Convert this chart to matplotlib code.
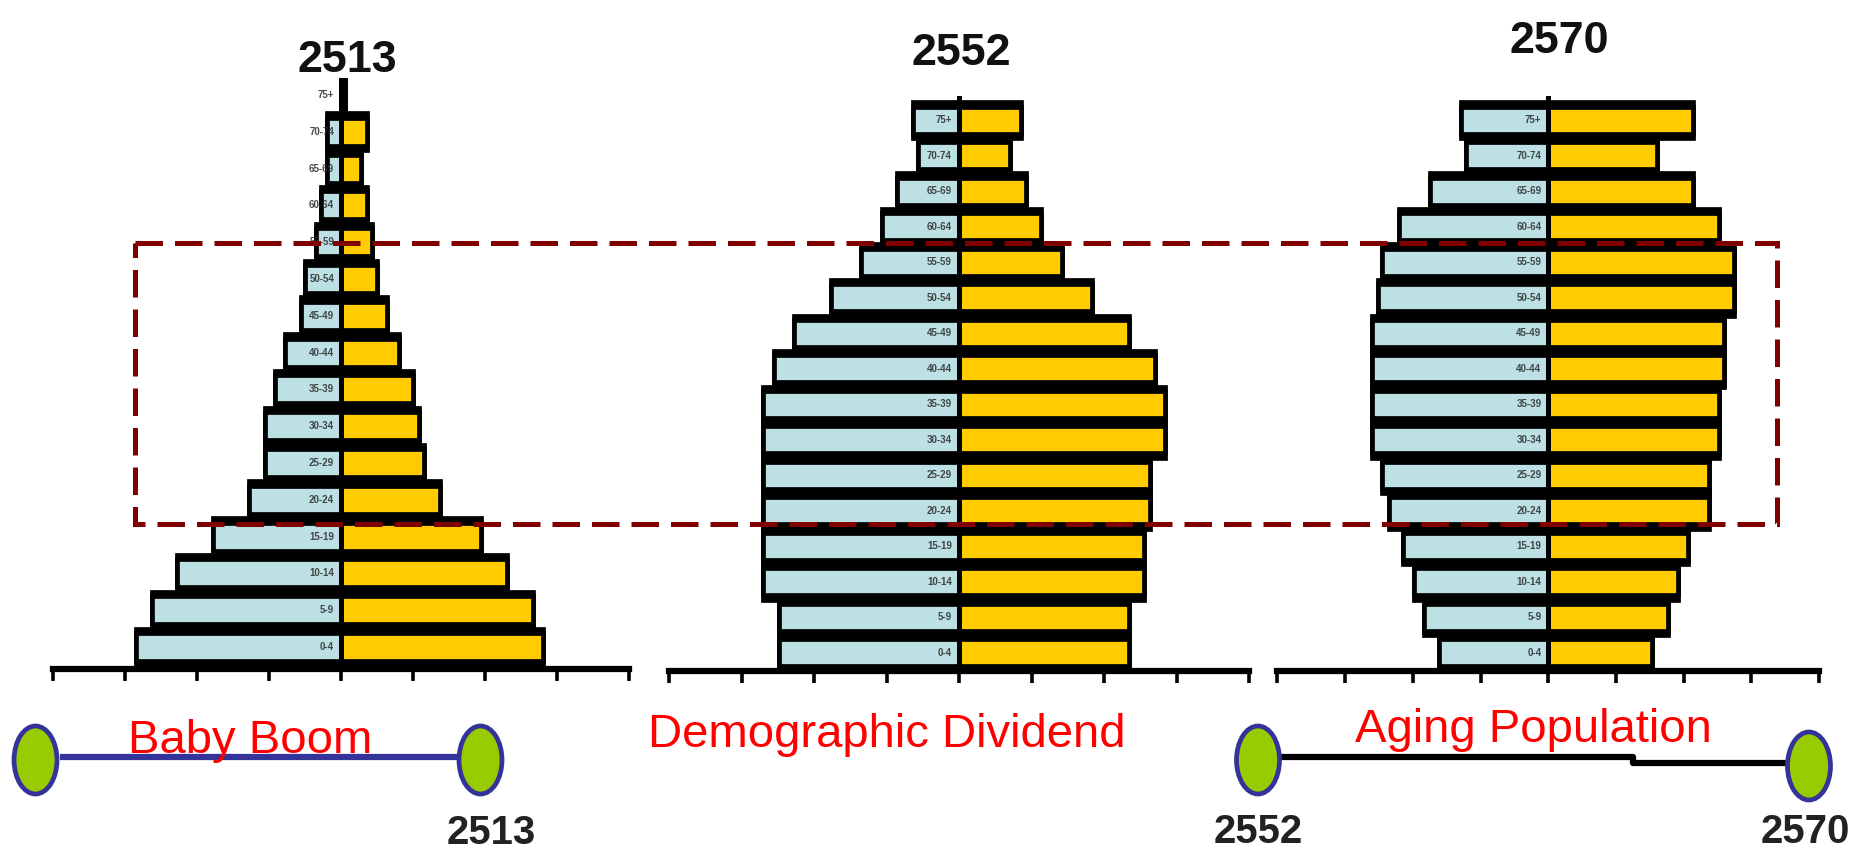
import matplotlib
matplotlib.use("Agg")
import matplotlib.pyplot as plt
from matplotlib import font_manager
from matplotlib.patches import Ellipse, Rectangle
import numpy as np

# ---------------- data ----------------
age_groups = ["0-4", "5-9", "10-14", "15-19", "20-24", "25-29", "30-34", "35-39",
              "40-44", "45-49", "50-54", "55-59", "60-64", "65-69", "70-74", "75+"]
years = ["2513", "2552", "2570"]
phases = ["Baby Boom", "Demographic Dividend", "Aging Population"]

# values per age group (bottom = 0-4 ... top = 75+), in axis tick units
male_2513 = [2.85, 2.63, 2.28, 1.78, 1.28, 1.06, 1.06, 0.92, 0.79, 0.56, 0.50, 0.35, 0.28, 0.20, 0.20, 0.00]
female_2513 = [2.80, 2.66, 2.30, 1.94, 1.37, 1.15, 1.08, 1.00, 0.80, 0.64, 0.50, 0.43, 0.36, 0.27, 0.36, 0.05]
male_2552 = [2.48, 2.48, 2.70, 2.70, 2.70, 2.70, 2.70, 2.70, 2.55, 2.27, 1.77, 1.35, 1.06, 0.85, 0.57, 0.63]
female_2552 = [2.34, 2.34, 2.55, 2.55, 2.63, 2.63, 2.84, 2.84, 2.70, 2.34, 1.84, 1.42, 1.13, 0.93, 0.70, 0.86]
male_2570 = [1.61, 1.83, 1.99, 2.14, 2.36, 2.45, 2.60, 2.60, 2.60, 2.60, 2.52, 2.45, 2.21, 1.75, 1.21, 1.29]
female_2570 = [1.53, 1.77, 1.91, 2.07, 2.38, 2.38, 2.53, 2.53, 2.60, 2.60, 2.75, 2.75, 2.53, 2.14, 1.60, 2.14]
xticks = [-4, -3, -2, -1, 0, 1, 2, 3, 4]

# ---------------- style ----------------
W, H, DPI = 1856, 852, 100
BLUE = "#BCE0E3"
YELLOW = "#FFCC00"
DARKRED = "#800000"
GREEN = "#99CC00"
NAVY = "#333399"

names = {f.name for f in font_manager.fontManager.ttflist}
if "Liberation Sans Narrow" in names:
    NARROW = ["Liberation Sans Narrow", "DejaVu Sans"]
    k = 1.0
else:
    NARROW = ["Liberation Sans", "DejaVu Sans"]
    k = 0.85

fig = plt.figure(figsize=(W / DPI, H / DPI), dpi=DPI)
fig.patch.set_facecolor("white")

# axes rectangles in pixels: (left, right, top, bottom)
panel_px = [
    (53.4, 629.4, 78.0, 668.5),
    (669.0, 1249.0, 96.0, 671.0),
    (1277.5, 1819.0, 96.0, 671.0),
]
ylims = [(0.416, 16.46), (0.493, 16.68), (0.493, 16.68)]
datasets = [(male_2513, female_2513), (male_2552, female_2552), (male_2570, female_2570)]

LW = 3.4
y = np.arange(1, len(age_groups) + 1)
for (l, r, t, b), yl, (male, female) in zip(panel_px, ylims, datasets):
    ax = fig.add_axes([l / W, 1 - b / H, (r - l) / W, (b - t) / H])
    ax.set_xlim(-4, 4)
    ax.set_ylim(*yl)
    neg = [-m for m in male]
    ax.barh(y, neg, height=1.0, color="black", edgecolor="black", linewidth=LW, zorder=2)
    ax.barh(y, female, height=1.0, color="black", edgecolor="black", linewidth=LW, zorder=2)
    ax.barh(y, neg, height=0.76, color=BLUE, edgecolor="black", linewidth=LW, zorder=3)
    ax.barh(y, female, height=0.76, color=YELLOW, edgecolor="black", linewidth=LW, zorder=3)
    ax.axvline(0, color="black", lw=3.6, zorder=4)
    for yi, lab in zip(y, age_groups):
        ax.text(-0.1, yi, lab, ha="right", va="center", fontsize=7, fontweight="bold",
                color="#2a2a2a", family=NARROW, zorder=5, alpha=0.85)
    for s in ["top", "left", "right"]:
        ax.spines[s].set_visible(False)
    ax.spines["bottom"].set_linewidth(4.5)
    ax.spines["bottom"].set_color("black")
    ax.set_xticks(xticks)
    ax.set_xticklabels([])
    ax.set_yticks([])
    ax.tick_params(axis="x", direction="out", length=8.5, width=2.6, color="black")
    ax.patch.set_alpha(0)

# ---------------- overlay (annotations) ----------------
ov = fig.add_axes([0, 0, 1, 1], zorder=10)
ov.set_xlim(0, W)
ov.set_ylim(H, 0)
ov.axis("off")
ov.patch.set_alpha(0)

# dashed box
ov.add_patch(Rectangle((135.5, 243), 1777 - 135.5, 524 - 243, fill=False,
                       edgecolor=DARKRED, lw=3.6, linestyle=(0, (5.5, 2.4))))

# year titles
title_pos = [(347, 72), (961, 65), (1559, 53)]
for (tx, ty), yr in zip(title_pos, years):
    ov.text(tx, ty, yr, ha="center", va="baseline", fontsize=38 * k, fontweight="bold",
            color="#111111", family=NARROW)

# timeline
ov.plot([60, 457], [757, 757], color=NAVY, lw=4.5, solid_capstyle="butt", zorder=1)
ov.plot([1280, 1633, 1633, 1788], [757, 757, 763, 763], color="black", lw=4.5,
        solid_capstyle="butt", zorder=1)
for cx, cy in [(35.5, 760), (480.5, 760), (1258, 760), (1809, 766)]:
    ov.add_patch(Ellipse((cx, cy), 43, 68, facecolor=GREEN, edgecolor=NAVY, lw=3.4, zorder=2))

# phase labels
phase_pos = [(128, 753), (648, 747), (1355, 742)]
for (px, py), lab in zip(phase_pos, phases):
    ov.text(px, py, lab, ha="left", va="baseline", fontsize=40 * k, color="#FF0000",
            family=NARROW)

# bottom year labels
ov.text(491, 844, years[0], ha="center", va="baseline", fontsize=34 * k, fontweight="bold",
        color="#222222", family=NARROW)
ov.text(1258, 851, years[1], ha="center", va="bottom", fontsize=34 * k, fontweight="bold",
        color="#222222", family=NARROW)
ov.text(1805, 851, years[2], ha="center", va="bottom", fontsize=34 * k, fontweight="bold",
        color="#222222", family=NARROW)

fig.savefig("out.png", dpi=DPI, facecolor="white")
